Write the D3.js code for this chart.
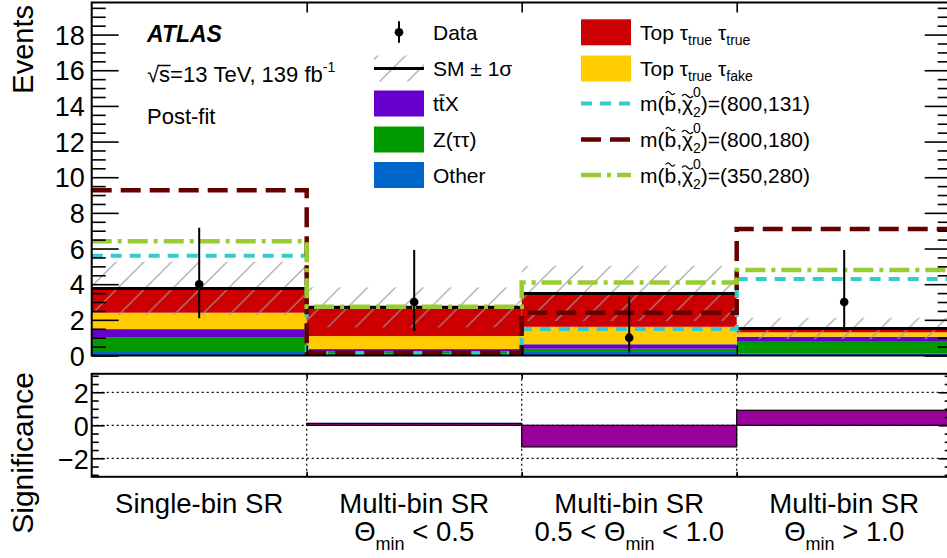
<!DOCTYPE html>
<html><head><meta charset="utf-8">
<script src="https://cdn.jsdelivr.net/npm/d3@7"></script>
<style>
body{margin:0;background:#fff}
svg{display:block}
text{font-family:"Liberation Sans",Arial,Helvetica,sans-serif;fill:#000}
</style>
</head><body>
<svg id="c" width="947" height="558"></svg>
<script>
// ---------------- data ----------------
const binLabels = ["Single-bin SR", "Multi-bin SR", "Multi-bin SR", "Multi-bin SR"];
const binSubPre = [null, "", "0.5 < ", ""];
const binSubPost = [null, " < 0.5", " < 1.0", " > 1.0"];
const other    = [0.25, 0.12, 0.20, 0.12];
const ztautau  = [0.75, 0.12, 0.18, 0.65];
const ttx      = [0.48, 0.12, 0.25, 0.28];
const topFake  = [0.92, 0.73, 0.98, 0.25];
const topTrue  = [1.36, 1.61, 1.87, 0.22];
const smErr    = [1.50, 1.12, 1.55, 0.60];
const dataVals = [4, 3, 1, 3];
const dataErrLo = [1.91, 1.63, 0.83, 1.63];
const dataErrHi = [3.16, 2.92, 2.30, 2.92];
const sig800_131 = [5.60, 0.12, 1.48, 4.29];
const sig800_180 = [9.27, 0.16, 2.40, 7.09];
const sig350_280 = [6.41, 2.73, 4.10, 4.79];
const significance = [0.0, 0.12, -1.31, 0.91];
const yTicksTop = [0, 2, 4, 6, 8, 10, 12, 14, 16, 18];
const yTicksBottom = [-2, 0, 2];

// ---------------- layout ----------------
const svg = d3.select("#c");
const X0 = 91.7, X1 = 951.7;
const x = d3.scaleLinear().domain([0, 4]).range([X0, X1]);
const yT = d3.scaleLinear().domain([0, 19.8]).range([355.5, 2.5]);
const yB = d3.scaleLinear().domain([-3.12, 3.12]).range([476.8, 373.8]);
const FONT = '"Liberation Sans",Arial,Helvetica,sans-serif';

const colors = {other:"#0066cc", z:"#009900", ttx:"#6600cc", fake:"#ffcc00", true:"#cc0000"};
const cyan = "#33cccc", dred = "#660000", lime = "#99cc33", sigFill = "#990099";

const defs = svg.append("defs");
const H = 27.7;
const pat = defs.append("pattern").attr("id", "hatch").attr("patternUnits", "userSpaceOnUse")
  .attr("x", 18).attr("y", 0).attr("width", H).attr("height", H);
pat.append("path").attr("d", `M0,${H} L${H},0 M-3,3 L3,-3 M${H-3},${H+3} L${H+3},${H-3}`)
  .attr("stroke", "#9a9a9a").attr("stroke-width", 1.2).attr("fill", "none");
defs.append("clipPath").attr("id", "clipT").append("rect")
  .attr("x", X0).attr("y", yT.range()[1]).attr("width", X1 - X0).attr("height", yT.range()[0] - yT.range()[1]);
defs.append("clipPath").attr("id", "clipB").append("rect")
  .attr("x", X0).attr("y", yB.range()[1]).attr("width", X1 - X0).attr("height", yB.range()[0] - yB.range()[1]);

// ---------------- rich text helper ----------------
function rich(g, px, py, parts, fs, anchor) {
  const grp = g.append("g");
  let cx = 0;
  parts.forEach(p => {
    const size = p.fs || fs;
    const t = grp.append("text").attr("x", cx).attr("y", p.dy || 0)
      .attr("font-size", size).text(p.t.replace(/ /g, "\u00A0"));
    const w = t.node().getComputedTextLength();
    if (p.tilde) {
      const tw = p.tw || w * 0.9, c = cx + w / 2, ty = p.ty;
      grp.append("path").attr("d", `M${c - tw/2},${ty} q${tw/4},-3.2 ${tw/2},0 t${tw/2},0`)
        .attr("fill", "none").attr("stroke", "#000").attr("stroke-width", 1.3);
    }
    if (p.bar) {
      grp.append("line").attr("x1", cx + w*0.1).attr("x2", cx + w*0.95).attr("y1", p.ty).attr("y2", p.ty)
        .attr("stroke", "#000").attr("stroke-width", 1.3);
    }
    if (p.over) {
      grp.append("line").attr("x1", cx - 1).attr("x2", cx + w + 0.5).attr("y1", p.ty).attr("y2", p.ty)
        .attr("stroke", "#000").attr("stroke-width", 1.5);
    }
    if (!p.noAdvance) cx += w;
  });
  const off = anchor === "middle" ? -cx / 2 : 0;
  grp.attr("transform", `translate(${px + off},${py})`);
  return grp;
}

// ---------------- top panel ----------------
const topG = svg.append("g");
const plot = topG.append("g").attr("clip-path", "url(#clipT)");

const rows = binLabels.map((b, i) => ({i, other: other[i], z: ztautau[i], ttx: ttx[i], fake: topFake[i], true: topTrue[i]}));
const keys = ["other", "z", "ttx", "fake", "true"];
const stacked = d3.stack().keys(keys)(rows);
stacked.forEach(layer => {
  plot.append("g").selectAll("rect").data(layer).join("rect")
    .attr("x", d => x(d.data.i)).attr("width", d => x(d.data.i + 1) - x(d.data.i))
    .attr("y", d => yT(d[1])).attr("height", d => yT(d[0]) - yT(d[1]))
    .attr("fill", colors[layer.key]);
});
const smTot = rows.map((r, i) => other[i] + ztautau[i] + ttx[i] + topFake[i] + topTrue[i]);

// hatch band
plot.append("g").selectAll("rect").data(smTot).join("rect")
  .attr("x", (d, i) => x(i)).attr("width", (d, i) => x(i + 1) - x(i))
  .attr("y", (d, i) => yT(d + smErr[i])).attr("height", (d, i) => yT(d - smErr[i]) - yT(d + smErr[i]))
  .attr("fill", "url(#hatch)");

// SM line
plot.append("g").selectAll("line").data(smTot).join("line")
  .attr("x1", (d, i) => x(i)).attr("x2", (d, i) => x(i + 1))
  .attr("y1", d => yT(d)).attr("y2", d => yT(d))
  .attr("stroke", "#000").attr("stroke-width", 3);

function stepPath(vals) {
  let p = `M${x(0)},${yT(vals[0])}`;
  vals.forEach((v, i) => {
    p += ` H${x(i + 1)}`;
    if (i < vals.length - 1) p += ` V${yT(vals[i + 1])}`;
  });
  return p;
}
const sigStyles = [
  {vals: sig800_131, color: cyan, dash: "11,8", w: 4},
  {vals: sig800_180, color: dred, dash: "20,9", w: 4.5},
  {vals: sig350_280, color: lime, dash: "20,6,4,6", w: 4.5}
];
sigStyles.forEach(s => {
  plot.append("path").attr("d", stepPath(s.vals)).attr("fill", "none")
    .attr("stroke", s.color).attr("stroke-width", s.w).attr("stroke-dasharray", s.dash);
});

// data
const dg = plot.append("g");
dataVals.forEach((v, i) => {
  const cxp = x(i + 0.5);
  dg.append("line").attr("x1", cxp).attr("x2", cxp)
    .attr("y1", yT(v - dataErrLo[i])).attr("y2", yT(v + dataErrHi[i]))
    .attr("stroke", "#000").attr("stroke-width", 2);
  dg.append("circle").attr("cx", cxp).attr("cy", yT(v)).attr("r", 4.3).attr("fill", "#000");
});

// axes top
function styleAxis(g) {
  g.select(".domain").remove();
  g.selectAll("line").attr("stroke", "#000").attr("stroke-width", 1.6);
  g.selectAll("text").attr("font-family", FONT).attr("font-size", 27).attr("fill", "#000");
}
const minorTop = d3.range(0, 19.81, 0.5).filter(v => Math.abs(v / 2 - Math.round(v / 2)) > 1e-6);
topG.append("g").attr("transform", `translate(${X0},0)`)
  .call(d3.axisLeft(yT).tickValues(yTicksTop).tickSizeInner(-27).tickSizeOuter(0).tickPadding(7).tickFormat(d3.format("d")))
  .call(styleAxis).selectAll("text").attr("dy", "0.36em");
topG.append("g").attr("transform", `translate(${X0},0)`)
  .call(d3.axisLeft(yT).tickValues(minorTop).tickSizeInner(-14).tickSizeOuter(0).tickFormat(""))
  .call(styleAxis);
topG.append("g").attr("transform", `translate(${X1},0)`)
  .call(d3.axisRight(yT).tickValues(yTicksTop).tickSizeInner(-27).tickSizeOuter(0).tickFormat(""))
  .call(styleAxis);
topG.append("g").attr("transform", `translate(${X1},0)`)
  .call(d3.axisRight(yT).tickValues(minorTop).tickSizeInner(-14).tickSizeOuter(0).tickFormat(""))
  .call(styleAxis);
topG.append("g").attr("transform", `translate(0,${yT.range()[1]})`)
  .call(d3.axisTop(x).tickValues([1, 2, 3]).tickSizeInner(-10).tickSizeOuter(0).tickFormat(""))
  .call(styleAxis);
topG.append("g").attr("transform", `translate(0,${yT.range()[0]})`)
  .call(d3.axisBottom(x).tickValues([1, 2, 3]).tickSizeInner(-10).tickSizeOuter(0).tickFormat(""))
  .call(styleAxis);
topG.append("rect").attr("x", X0).attr("y", yT.range()[1]).attr("width", X1 - X0)
  .attr("height", yT.range()[0] - yT.range()[1]).attr("fill", "none").attr("stroke", "#000").attr("stroke-width", 2);

// ---------------- bottom panel ----------------
const bot = svg.append("g");
const bplot = bot.append("g").attr("clip-path", "url(#clipB)");
bplot.append("g").selectAll("line").data(yTicksBottom).join("line")
  .attr("x1", X0).attr("x2", X1).attr("y1", d => yB(d)).attr("y2", d => yB(d))
  .attr("stroke", "#000").attr("stroke-width", 1.2).attr("stroke-dasharray", "2,3");
bplot.append("g").selectAll("line").data([1, 2, 3]).join("line")
  .attr("x1", d => x(d)).attr("x2", d => x(d)).attr("y1", yB.range()[1]).attr("y2", yB.range()[0])
  .attr("stroke", "#000").attr("stroke-width", 1.2).attr("stroke-dasharray", "2,3");
bplot.append("g").selectAll("rect").data(significance).join("rect")
  .attr("x", (d, i) => x(i)).attr("width", (d, i) => x(i + 1) - x(i))
  .attr("y", d => yB(Math.max(0, d))).attr("height", d => Math.abs(yB(d) - yB(0)))
  .attr("fill", sigFill).attr("stroke", "#000").attr("stroke-width", 1.2);

const minorBot = d3.range(-3, 3.01, 0.5).filter(v => Math.abs(v / 2 - Math.round(v / 2)) > 1e-6);
bot.append("g").attr("transform", `translate(${X0},0)`)
  .call(d3.axisLeft(yB).tickValues(yTicksBottom).tickSizeInner(-13).tickSizeOuter(0).tickPadding(3).tickFormat(d3.format("d")))
  .call(styleAxis).selectAll("text").attr("dy", "0.36em");
bot.append("g").attr("transform", `translate(${X0},0)`)
  .call(d3.axisLeft(yB).tickValues(minorBot).tickSizeInner(-7).tickSizeOuter(0).tickFormat(""))
  .call(styleAxis);
bot.append("g").attr("transform", `translate(${X1},0)`)
  .call(d3.axisRight(yB).tickValues(yTicksBottom).tickSizeInner(-13).tickSizeOuter(0).tickFormat(""))
  .call(styleAxis);
bot.append("g").attr("transform", `translate(${X1},0)`)
  .call(d3.axisRight(yB).tickValues(minorBot).tickSizeInner(-7).tickSizeOuter(0).tickFormat(""))
  .call(styleAxis);
bot.append("g").attr("transform", `translate(0,${yB.range()[0]})`)
  .call(d3.axisBottom(x).tickValues([1, 2, 3]).tickSizeInner(-5).tickSizeOuter(0).tickFormat(""))
  .call(styleAxis);
bot.append("g").attr("transform", `translate(0,${yB.range()[1]})`)
  .call(d3.axisTop(x).tickValues([1, 2, 3]).tickSizeInner(-5).tickSizeOuter(0).tickFormat(""))
  .call(styleAxis);
bot.append("rect").attr("x", X0).attr("y", yB.range()[1]).attr("width", X1 - X0)
  .attr("height", yB.range()[0] - yB.range()[1]).attr("fill", "none").attr("stroke", "#000").attr("stroke-width", 2);

// x category labels
binLabels.forEach((lab, i) => {
  const cxp = x(i + 0.5);
  svg.append("text").attr("x", cxp).attr("y", 513).attr("text-anchor", "middle")
    .attr("font-size", 27.5).text(lab);
  if (binSubPost[i] !== null) {
    rich(svg, cxp, 541, [
      {t: binSubPre[i]}, {t: "Θ"}, {t: "min", fs: 18, dy: 9}, {t: binSubPost[i]}
    ], 27.5, "middle");
  }
});

// axis titles
svg.append("text").attr("transform", "translate(33,5) rotate(-90)").attr("text-anchor", "end")
  .attr("font-size", 29).text("Events");
svg.append("text").attr("transform", "translate(33,372) rotate(-90)").attr("text-anchor", "end")
  .attr("font-size", 30).text("Significance");

// ---------------- ATLAS labels ----------------
svg.append("text").attr("x", 147).attr("y", 42).attr("font-size", 23).attr("font-weight", "bold")
  .attr("font-style", "italic").text("ATLAS");
rich(svg, 147, 81.5, [
  {t: "√"}, {t: "s", over: true, ty: -16}, {t: "=13 TeV, 139 fb"}, {t: "-1", fs: 14, dy: -10}
], 22);
svg.append("text").attr("x", 147).attr("y", 124).attr("font-size", 22).text("Post-fit");

// ---------------- legend ----------------
const leg = svg.append("g");
const LF = 21;
const col1 = {bx: 374, bw: 50, tx: 433};
const col2 = {bx: 581, bw: 50, tx: 640};
const rowsY = [32.3, 68.5, 103.5, 139.5, 175];
const bh = 26;
function legBox(col, yc, color) {
  leg.append("rect").attr("x", col.bx).attr("y", yc - bh / 2).attr("width", col.bw).attr("height", bh).attr("fill", color);
}
function legText(col, yc, parts) {
  rich(leg, col.tx, yc + 7.5, parts, LF);
}
leg.append("line").attr("x1", col1.bx + 25).attr("x2", col1.bx + 25).attr("y1", rowsY[0] - 11).attr("y2", rowsY[0] + 10.5)
  .attr("stroke", "#000").attr("stroke-width", 2);
leg.append("circle").attr("cx", col1.bx + 25).attr("cy", rowsY[0]).attr("r", 4.3);
legText(col1, rowsY[0], [{t: "Data"}]);
leg.append("rect").attr("x", col1.bx).attr("y", rowsY[1] - bh / 2).attr("width", col1.bw).attr("height", bh).attr("fill", "url(#hatch)");
leg.append("line").attr("x1", col1.bx).attr("x2", col1.bx + col1.bw).attr("y1", rowsY[1]).attr("y2", rowsY[1])
  .attr("stroke", "#000").attr("stroke-width", 3);
legText(col1, rowsY[1], [{t: "SM ± 1σ"}]);
legBox(col1, rowsY[2], colors.ttx);
legText(col1, rowsY[2], [{t: "t"}, {t: "t", bar: true, ty: -16}, {t: "X"}]);
legBox(col1, rowsY[3], colors.z);
legText(col1, rowsY[3], [{t: "Z(ττ)"}]);
legBox(col1, rowsY[4], colors.other);
legText(col1, rowsY[4], [{t: "Other"}]);

legBox(col2, rowsY[0], colors.true);
legText(col2, rowsY[0], [{t: "Top τ"}, {t: "true", fs: 14, dy: 5}, {t: " τ"}, {t: "true", fs: 14, dy: 5}]);
legBox(col2, rowsY[1], colors.fake);
legText(col2, rowsY[1], [{t: "Top τ"}, {t: "true", fs: 14, dy: 5}, {t: " τ"}, {t: "fake", fs: 14, dy: 5}]);
const sigNames = ["(800,131)", "(800,180)", "(350,280)"];
sigStyles.forEach((s, k) => {
  const yc = rowsY[2 + k];
  leg.append("line").attr("x1", col2.bx).attr("x2", col2.bx + col2.bw).attr("y1", yc).attr("y2", yc)
    .attr("stroke", s.color).attr("stroke-width", s.w).attr("stroke-dasharray", s.dash);
  legText(col2, yc, [
    {t: "m("}, {t: "b", tilde: true, ty: -18, tw: 9}, {t: ","},
    {t: "χ", tilde: true, ty: -15, tw: 11},
    {t: "0", fs: 14, dy: -14, noAdvance: true}, {t: "2", fs: 14, dy: 6},
    {t: ")=" + sigNames[k]}
  ]);
});
</script>
</body></html>
